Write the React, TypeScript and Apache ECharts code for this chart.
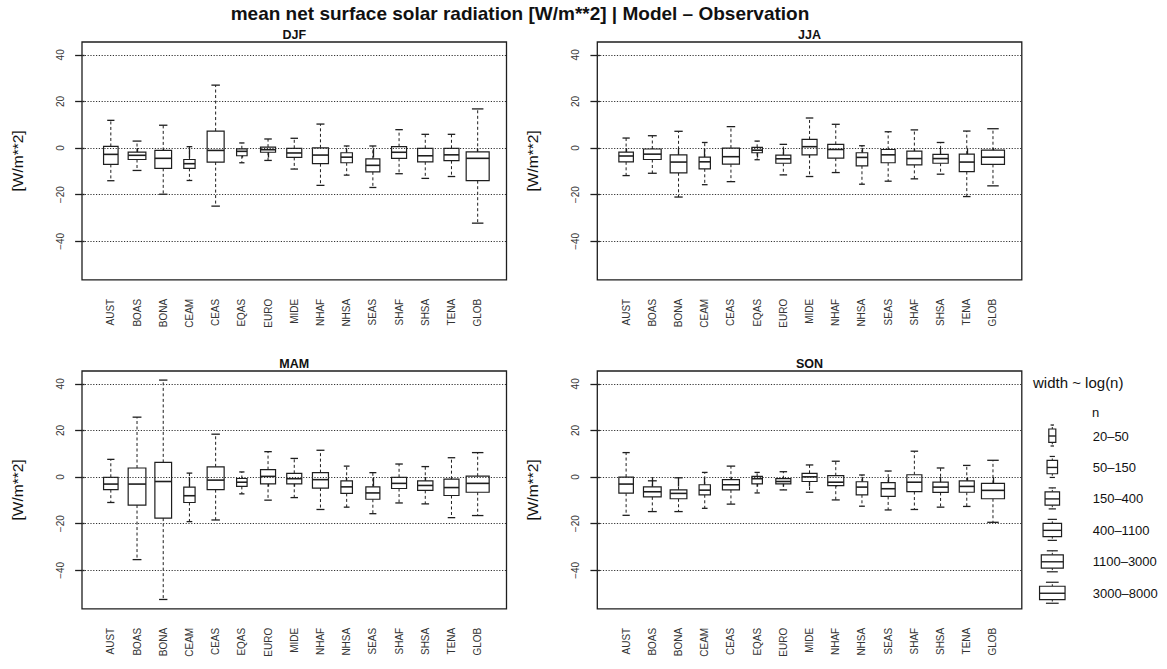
import React, { useEffect, useRef } from 'react';
import * as echarts from 'echarts';

const regions = ['AUST', 'BOAS', 'BONA', 'CEAM', 'CEAS', 'EQAS', 'EURO', 'MIDE', 'NHAF', 'NHSA', 'SEAS', 'SHAF', 'SHSA', 'TENA', 'GLOB'];
// approximate number of grid cells per region (box width ~ log(n))
const regionN = [242, 810, 555, 72, 620, 53, 292, 292, 425, 78, 200, 292, 326, 292, 6000];

// [min, q1, median, q3, max]
const djf = [
  [-14.0, -7.0, -2.7, 0.7, 11.9],
  [-9.6, -4.9, -3.1, -1.7, 3.0],
  [-19.8, -8.7, -4.4, -1.0, 9.8],
  [-13.9, -8.7, -6.7, -4.9, 0.6],
  [-24.9, -6.0, -1.0, 7.3, 27.0],
  [-6.3, -3.3, -1.4, -0.3, 2.2],
  [-5.3, -1.8, -0.7, 0.4, 3.9],
  [-9.0, -4.0, -2.1, -0.1, 4.2],
  [-16.0, -6.7, -3.0, 0.1, 10.3],
  [-11.6, -6.3, -3.9, -2.0, 0.9],
  [-16.9, -10.2, -7.4, -4.6, 0.9],
  [-11.0, -4.4, -1.8, 0.6, 7.9],
  [-13.0, -5.9, -3.3, -0.1, 5.9],
  [-12.2, -5.4, -2.9, -0.1, 5.9],
  [-32.2, -14.0, -4.4, -1.6, 16.8],
];
const jja = [
  [-11.8, -5.9, -3.4, -1.7, 4.3],
  [-10.8, -4.9, -2.6, -0.4, 5.3],
  [-21.0, -10.6, -6.0, -2.9, 7.2],
  [-15.7, -8.9, -5.9, -3.9, 2.4],
  [-14.4, -6.9, -3.7, 0.0, 9.2],
  [-5.0, -2.0, -0.9, 0.3, 3.0],
  [-11.5, -6.5, -4.6, -3.0, 1.6],
  [-12.2, -2.9, 0.6, 3.7, 12.9],
  [-10.5, -4.3, -0.6, 1.6, 10.2],
  [-15.5, -7.6, -4.0, -2.0, 1.0],
  [-14.2, -6.3, -2.9, -0.6, 7.0],
  [-13.2, -7.2, -4.5, -1.3, 7.8],
  [-11.2, -6.5, -4.5, -2.7, 2.4],
  [-20.8, -10.1, -6.0, -2.6, 7.3],
  [-16.2, -7.0, -3.9, -0.9, 8.3],
];
const mam = [
  [-10.9, -5.4, -3.0, -0.1, 7.6],
  [-35.4, -12.0, -3.0, 3.9, 25.7],
  [-52.5, -17.6, -1.9, 6.3, 41.6],
  [-19.1, -10.9, -8.0, -4.3, 1.7],
  [-18.4, -5.4, -1.3, 4.4, 18.4],
  [-7.2, -4.0, -2.2, -0.6, 2.2],
  [-9.9, -2.9, 0.3, 3.2, 10.9],
  [-8.8, -2.9, -0.7, 1.6, 8.0],
  [-13.9, -4.7, -1.1, 1.9, 11.5],
  [-12.9, -7.0, -4.2, -1.6, 4.7],
  [-15.7, -9.5, -6.8, -4.2, 1.9],
  [-11.1, -4.9, -2.7, -0.1, 5.6],
  [-11.5, -5.7, -3.6, -1.6, 4.5],
  [-17.4, -7.9, -4.5, -0.9, 8.3],
  [-16.5, -6.5, -2.7, 0.4, 10.5],
];
const son = [
  [-16.4, -6.9, -3.0, 0.0, 10.5],
  [-14.8, -8.5, -6.3, -4.2, -1.6],
  [-14.8, -9.3, -7.0, -5.5, -0.3],
  [-13.4, -7.6, -5.6, -3.3, 2.0],
  [-11.6, -5.5, -3.3, -1.1, 4.7],
  [-6.8, -2.9, -0.7, 0.3, 2.0],
  [-5.5, -2.9, -1.9, -0.7, 2.3],
  [-6.5, -1.9, 0.1, 1.6, 5.2],
  [-9.8, -3.7, -2.2, 0.6, 6.8],
  [-12.5, -7.6, -4.3, -2.0, 0.9],
  [-14.1, -8.3, -5.0, -2.4, 2.6],
  [-13.9, -6.2, -2.2, 1.0, 11.1],
  [-12.9, -6.6, -4.3, -2.2, 3.9],
  [-12.6, -6.5, -4.0, -1.6, 5.0],
  [-19.4, -9.3, -5.7, -2.7, 7.2],
];

const yTicks = [-40, -20, 0, 20, 40];
const Y_MIN = -56.5;
const Y_MAX = 45.5;
const legendClasses = ['20–50', '50–150', '150–400', '400–1100', '1100–3000', '3000–8000'];

const mainTitle = 'mean net surface solar radiation [W/m**2] | Model – Observation';
const yName = '[W/m**2]';

const FONT = '"Liberation Sans", Arial, Helvetica, sans-serif';
const INK = '#1e1e1e';

const panels = [
  { name: 'DJF', data: djf, left: 82, top: 42 },
  { name: 'JJA', data: jja, left: 597.3, top: 42 },
  { name: 'MAM', data: mam, left: 82, top: 371 },
  { name: 'SON', data: son, left: 597.3, top: 371 },
];
const PW = 424.5;
const PH = 237.8;

function renderBox(params: any, api: any) {
  const x = api.value(0);
  const w = api.value(6);
  const lo = api.coord([x, api.value(1)]);
  const q1 = api.coord([x, api.value(2)]);
  const md = api.coord([x, api.value(3)]);
  const q3 = api.coord([x, api.value(4)]);
  const hi = api.coord([x, api.value(5)]);
  const hw = api.size([w, 0])[0] / 2;
  const cx = q1[0];
  const dash = { stroke: INK, lineWidth: 1, lineDash: [3, 2.5], fill: null };
  const solid = { stroke: INK, lineWidth: 1.3, fill: null };
  return {
    type: 'group',
    children: [
      { type: 'line', shape: { x1: cx, y1: q3[1], x2: cx, y2: hi[1] }, style: dash },
      { type: 'line', shape: { x1: cx, y1: q1[1], x2: cx, y2: lo[1] }, style: dash },
      { type: 'line', shape: { x1: cx - hw / 2, y1: hi[1], x2: cx + hw / 2, y2: hi[1] }, style: solid },
      { type: 'line', shape: { x1: cx - hw / 2, y1: lo[1], x2: cx + hw / 2, y2: lo[1] }, style: solid },
      { type: 'rect', shape: { x: cx - hw, y: q3[1], width: 2 * hw, height: q1[1] - q3[1] }, style: { fill: '#fff', stroke: INK, lineWidth: 1.2 } },
      { type: 'line', shape: { x1: cx - hw, y1: md[1], x2: cx + hw, y2: md[1] }, style: { stroke: INK, lineWidth: 1.6 } },
    ],
  };
}

function buildOption() {
  const grid: any[] = [];
  const xAxis: any[] = [];
  const yAxis: any[] = [];
  const series: any[] = [];
  const graphic: any[] = [];
  const catIdx = regions.map((_, i) => i + 1);

  panels.forEach((p, k) => {
    grid.push({
      left: p.left, top: p.top, width: PW, height: PH,
      show: true, borderColor: INK, borderWidth: 1.3, backgroundColor: 'transparent',
      outerBoundsMode: 'none', containLabel: false,
    });
    xAxis.push({
      type: 'value', gridIndex: k, min: -0.1, max: 16.1,
      axisLine: { show: false },
      splitLine: { show: false },
      axisTick: { show: true, inside: false, length: 9.5, customValues: catIdx, lineStyle: { color: INK, width: 1.3 } },
      axisLabel: {
        show: true, customValues: catIdx, rotate: 90, margin: 19,
        fontFamily: FONT, fontSize: 10, color: '#333',
        formatter: (v: number) => regions[Math.round(v) - 1] || '',
      },
    });
    yAxis.push({
      type: 'value', gridIndex: k, min: Y_MIN, max: Y_MAX,
      axisLine: { show: false },
      splitLine: { show: false },
      axisTick: { show: true, inside: false, length: 9.5, customValues: yTicks, lineStyle: { color: INK, width: 1.3 } },
      axisLabel: {
        show: true, customValues: yTicks, rotate: 90, margin: 17,
        fontFamily: FONT, fontSize: 10, color: '#333',
        formatter: (v: number) => (v < 0 ? '\u2212' + Math.abs(v) : String(v)),
      },
    });
    series.push({
      type: 'line', xAxisIndex: k, yAxisIndex: k, data: [], z: 1, silent: true,
      markLine: {
        silent: true, symbol: 'none', animation: false,
        label: { show: false },
        lineStyle: { type: [1.2, 1.6], color: '#333', width: 1 },
        data: yTicks.map((v) => ({ yAxis: v })),
      },
    });
    series.push({
      type: 'custom', xAxisIndex: k, yAxisIndex: k, z: 3, silent: true,
      renderItem: renderBox,
      encode: { x: 0, y: [1, 2, 3, 4, 5] },
      data: p.data.map((s, i) => [i + 1, s[0], s[1], s[2], s[3], s[4], 0.1009 * Math.log(regionN[i])]),
    });
    // panel title
    graphic.push({
      type: 'text', x: p.left + PW / 2, y: p.top - 7,
      style: { text: p.name, font: `bold 12.5px ${FONT}`, fill: '#111', textAlign: 'center', textVerticalAlign: 'middle' },
    });
    // y axis name
    graphic.push({
      type: 'text', x: p.left - 65, y: p.top + PH / 2, rotation: Math.PI / 2,
      style: { text: yName, font: `15.5px ${FONT}`, fill: '#111', textAlign: 'center', textVerticalAlign: 'middle' },
    });
  });

  graphic.push({
    type: 'text', x: 520, y: 13,
    style: { text: mainTitle, font: `bold 19px ${FONT}`, fill: '#111', textAlign: 'center', textVerticalAlign: 'middle' },
  });

  // legend
  graphic.push({
    type: 'text', x: 1033, y: 382,
    style: { text: 'width ~ log(n)', font: `15px ${FONT}`, fill: '#111', textAlign: 'left', textVerticalAlign: 'middle' },
  });
  graphic.push({
    type: 'text', x: 1092, y: 412,
    style: { text: 'n', font: `13px ${FONT}`, fill: '#111', textAlign: 'left', textVerticalAlign: 'middle' },
  });
  const lgW = [7, 10.5, 14.5, 18.5, 22, 25.5];
  legendClasses.forEach((lab, i) => {
    const cy = 436 + i * 31.45;
    const cx = 1052.3;
    const w = lgW[i];
    graphic.push({
      type: 'text', x: 1092.7, y: cy,
      style: { text: lab, font: `13px ${FONT}`, fill: '#111', textAlign: 'left', textVerticalAlign: 'middle' },
    });
    graphic.push({ type: 'line', shape: { x1: cx, y1: cy - 7, x2: cx, y2: cy - 11 }, style: { stroke: INK, lineWidth: 1, lineDash: [2, 1.5] } });
    graphic.push({ type: 'line', shape: { x1: cx, y1: cy + 6.3, x2: cx, y2: cy + 10 }, style: { stroke: INK, lineWidth: 1, lineDash: [2, 1.5] } });
    graphic.push({ type: 'line', shape: { x1: cx - w / 4, y1: cy - 11, x2: cx + w / 4, y2: cy - 11 }, style: { stroke: INK, lineWidth: 1.2 } });
    graphic.push({ type: 'line', shape: { x1: cx - w / 4, y1: cy + 10, x2: cx + w / 4, y2: cy + 10 }, style: { stroke: INK, lineWidth: 1.2 } });
    graphic.push({ type: 'rect', shape: { x: cx - w / 2, y: cy - 7, width: w, height: 13.3 }, style: { fill: '#fff', stroke: INK, lineWidth: 1.2 } });
    graphic.push({ type: 'line', shape: { x1: cx - w / 2, y1: cy, x2: cx + w / 2, y2: cy }, style: { stroke: INK, lineWidth: 1.4 } });
  });

  return {
    animation: false,
    backgroundColor: '#ffffff',
    grid, xAxis, yAxis, series, graphic,
  };
}

export default function App() {
  const ref = useRef<HTMLDivElement>(null);
  useEffect(() => {
    document.body.style.margin = '0';
    if (!ref.current) return;
    const chart = echarts.init(ref.current, undefined, { renderer: 'svg' });
    chart.setOption(buildOption() as any);
    return () => chart.dispose();
  }, []);
  return <div ref={ref} style={{ width: 1167, height: 669 }} />;
}
